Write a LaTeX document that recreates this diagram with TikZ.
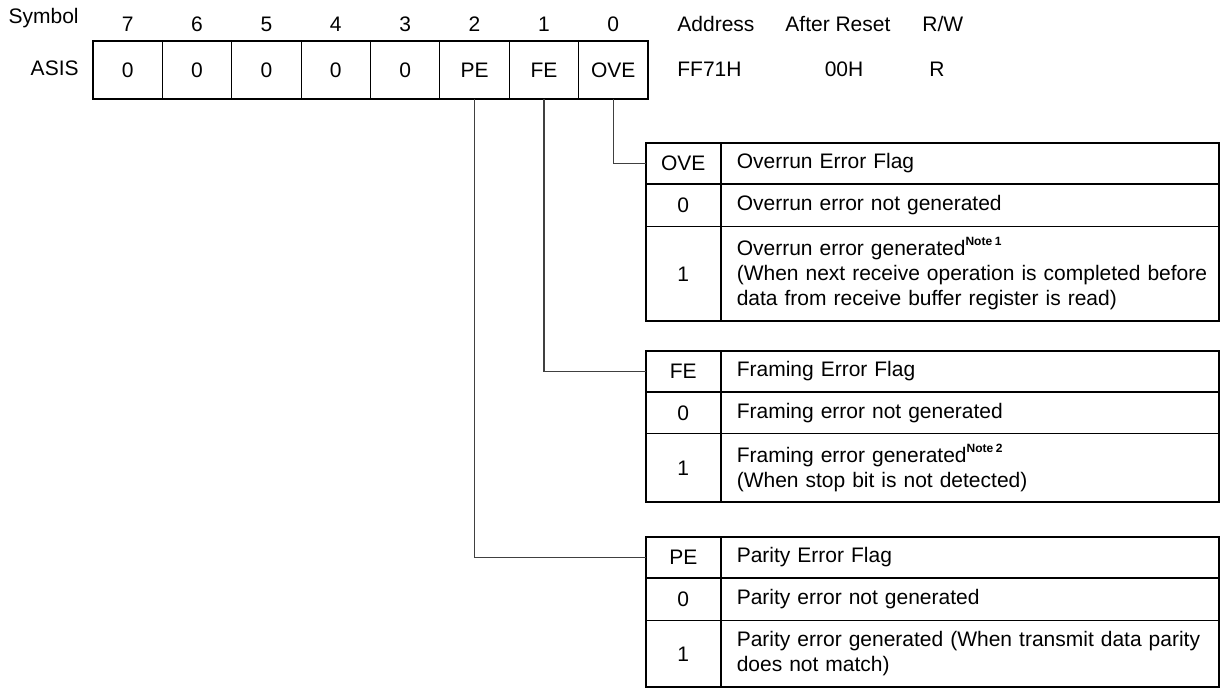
\documentclass[tikz,border=0pt]{standalone}
\usepackage{fontspec}
\setmainfont{Liberation Sans}
\usetikzlibrary{positioning}
\newcommand{\notemark}[1]{\raisebox{.9ex}{\fontsize{6}{6}\selectfont\bfseries Note\kern1.3pt#1}}

\begin{document}
\begin{tikzpicture}[x=.5pt,y=-.5pt,
 font=\fontsize{10.5}{12.5}\selectfont,
 regcell/.style={draw,line width=.5pt,minimum width=34.69pt,minimum height=29pt,
   inner sep=0pt,outer sep=0pt,anchor=north west},
 lbl/.style={inner sep=0pt,anchor=base west},
 keycell/.style={draw,line width=.5pt,minimum width=37.25pt,inner sep=0pt,
   outer sep=0pt,anchor=north west},
 desccell/.style={draw,line width=.5pt,text width=233pt,inner xsep=8.125pt,
   inner ysep=0pt,outer sep=0pt,align=left,anchor=north west},
 frame/.style={line width=1pt},
 lead/.style={draw=black!75,line width=.6pt}
]
 \useasboundingbox (0,0) rectangle (1220,688);
 % register row
 \foreach \b/\t [count=\k from 0] in {7/0,6/0,5/0,4/0,3/0,2/PE,1/FE,0/OVE}{
   \node[regcell] (b\b) at (93+69.375*\k,41) {\t};
   \node[lbl,anchor=base] (n\b) at (127.69+69.375*\k,32) {\b};
 }
 \draw[frame] (b7.north west) rectangle (b0.south east);
 \node[lbl,anchor=base east] (sym) at (79,24) {Symbol};
 \node[lbl,anchor=base east] (reg) at (79,76) {ASIS};
 \node[lbl] (addr) at (677,32) {Address};
 \node[lbl] (rst) at (785,32) {After Reset};
 \node[lbl] (rw) at (922,32) {R/W};
 \node[lbl] (addrv) at (677,77) {FF71H};
 \node[lbl,anchor=base] (rstv) at (844,77) {00H};
 \node[lbl,anchor=base] (rwv) at (937,77) {R};
 % OVE table
 \node[keycell,minimum height=20.5pt] (oveK) at (646,143) {OVE};
 \node[desccell,minimum height=20.5pt] (oveT) at (oveK.north east) {Overrun Error Flag};
 \node[keycell,minimum height=21.5pt] (ove0K) at (oveK.south west) {0};
 \node[desccell,minimum height=21.5pt] (ove0T) at (oveT.south west) {Overrun error not generated};
 \node[keycell,minimum height=47pt] (ove1K) at (ove0K.south west) {1};
 \node[desccell,minimum height=47pt] (ove1T) at (ove0T.south west)
   {Overrun error generated\notemark{1}\\
    \mbox{(When next receive operation is completed before}\\
    data from receive buffer register is read)};
 \draw[frame] (oveK.north west) rectangle (ove1T.south east);
 \draw[frame] (oveK.south west) -- (oveT.south east);
 \draw[frame] (oveK.north east) -- (ove1K.south east);
 % FE table
 \node[keycell,minimum height=20.5pt] (feK) at (646,351) {FE};
 \node[desccell,minimum height=20.5pt] (feT) at (feK.north east) {Framing Error Flag};
 \node[keycell,minimum height=21pt] (fe0K) at (feK.south west) {0};
 \node[desccell,minimum height=21pt] (fe0T) at (feT.south west) {Framing error not generated};
 \node[keycell,minimum height=34pt] (fe1K) at (fe0K.south west) {1};
 \node[desccell,minimum height=34pt] (fe1T) at (fe0T.south west)
   {Framing error generated\notemark{2}\\(When stop bit is not detected)};
 \draw[frame] (feK.north west) rectangle (fe1T.south east);
 \draw[frame] (feK.south west) -- (feT.south east);
 \draw[frame] (feK.north east) -- (fe1K.south east);
 % PE table
 \node[keycell,minimum height=20.5pt] (peK) at (646,537) {PE};
 \node[desccell,minimum height=20.5pt] (peT) at (peK.north east) {Parity Error Flag};
 \node[keycell,minimum height=21.5pt] (pe0K) at (peK.south west) {0};
 \node[desccell,minimum height=21.5pt] (pe0T) at (peT.south west) {Parity error not generated};
 \node[keycell,minimum height=33pt] (pe1K) at (pe0K.south west) {1};
 \node[desccell,minimum height=33pt] (pe1T) at (pe0T.south west)
   {\mbox{Parity error generated (When transmit data parity}\\does not match)};
 \draw[frame] (peK.north west) rectangle (pe1T.south east);
 \draw[frame] (peK.south west) -- (peT.south east);
 \draw[frame] (peK.north east) -- (pe1K.south east);
 % leads from the bits
 \draw[lead] (b0.south) |- (oveK.west);
 \draw[lead] (b1.south) |- (feK.west);
 \draw[lead] (b2.south) |- (peK.west);
\end{tikzpicture}
\end{document}
